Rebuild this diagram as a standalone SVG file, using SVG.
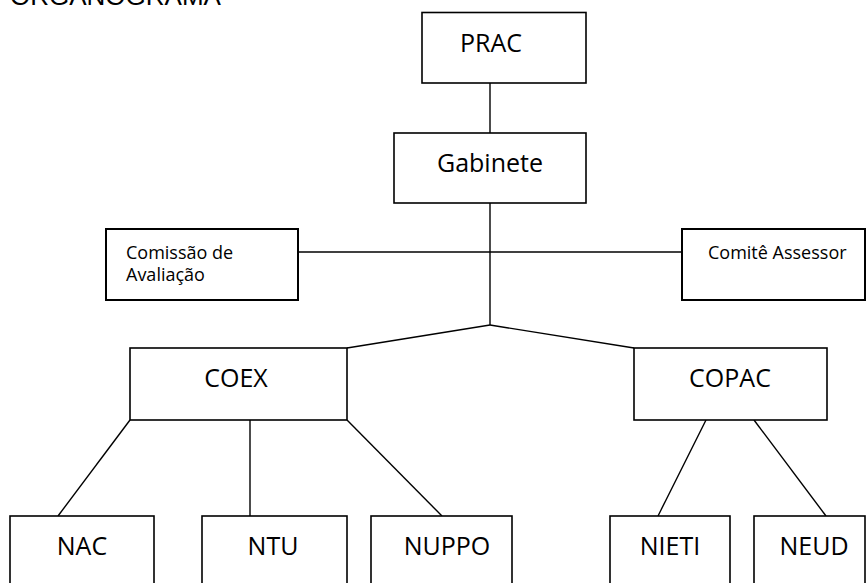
<svg xmlns="http://www.w3.org/2000/svg" width="866" height="583" viewBox="0 0 866 583">
<style>
.box{fill:#fff;stroke:#000;stroke-width:1.6}
.ln{fill:none;stroke:#000;stroke-width:1.4}
.t{font-family:"Open Sans","Liberation Sans",sans-serif;font-size:25px;fill:#000;text-anchor:middle}
.s{font-family:"Open Sans","Liberation Sans",sans-serif;font-size:18px;fill:#000}
.title{font-family:"Liberation Sans",Arial,sans-serif;font-size:26px;fill:#000}
</style>
<rect width="866" height="583" fill="#fff"/>
<text class="title" x="10" y="5">ORGANOGRAMA</text>
<g id="connectors">
<line class="ln" x1="490" y1="83" x2="490" y2="133"/>
<line class="ln" x1="490" y1="203" x2="490" y2="325"/>
<line class="ln" x1="298" y1="252" x2="682" y2="252"/>
<line class="ln" x1="490" y1="325" x2="347" y2="348"/>
<line class="ln" x1="490" y1="325" x2="634" y2="348"/>
<line class="ln" x1="130" y1="420" x2="58" y2="516"/>
<line class="ln" x1="250" y1="420" x2="250" y2="516"/>
<line class="ln" x1="347" y1="420" x2="442" y2="516"/>
<line class="ln" x1="706" y1="420" x2="658" y2="516"/>
<line class="ln" x1="754" y1="420" x2="826" y2="516"/>
</g>
<g id="prac"><rect class="box" x="422" y="12.5" width="164" height="70.5"/><text class="t" x="491" y="52">PRAC</text></g>
<g id="gabinete"><rect class="box" x="394" y="133" width="192" height="70"/><text class="t" x="490" y="172">Gabinete</text></g>
<g id="comissao"><rect class="box" x="106" y="229" width="192" height="71" style="stroke-width:2"/><text class="s" x="126" y="259">Comissão de</text><text class="s" x="126" y="281">Avaliação</text></g>
<g id="comite"><rect class="box" x="682" y="229" width="183" height="71" style="stroke-width:2"/><text class="s" x="708" y="259">Comitê Assessor</text></g>
<g id="coex"><rect class="box" x="130" y="348" width="217" height="72"/><text class="t" x="236" y="387">COEX</text></g>
<g id="copac"><rect class="box" x="634" y="348" width="193" height="72"/><text class="t" x="730" y="387">COPAC</text></g>
<g id="nac"><rect class="box" x="10" y="516" width="144" height="90"/><text class="t" x="82" y="555">NAC</text></g>
<g id="ntu"><rect class="box" x="202" y="516" width="145" height="90"/><text class="t" x="273" y="555">NTU</text></g>
<g id="nuppo"><rect class="box" x="371" y="516" width="141" height="90"/><text class="t" x="447" y="555">NUPPO</text></g>
<g id="nieti"><rect class="box" x="610" y="516" width="120" height="90"/><text class="t" x="670" y="555">NIETI</text></g>
<g id="neud"><rect class="box" x="754" y="516" width="111" height="90"/><text class="t" x="814" y="555">NEUD</text></g>
</svg>
